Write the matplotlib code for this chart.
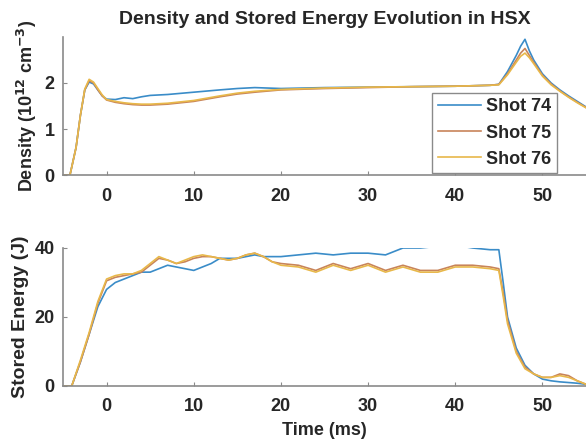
import numpy as np
import matplotlib
matplotlib.use('Agg')
import matplotlib.pyplot as plt

# Datos (tiempo en ms)
shots = ['Shot 74', 'Shot 75', 'Shot 76']
colores = ['#3a8cc8', '#c8845a', '#e8b84a']

# Densidad (10^12 cm^-3)
t_dens = [-5, -4.2, -3.5, -3, -2.5, -2, -1.5, -1, -0.5, 0, 1, 2, 3, 4, 5, 7, 10, 13, 15, 17, 20,
          25, 30, 35, 40, 44, 45, 46, 47, 47.5, 48, 48.5, 49, 50, 51, 52, 53, 54, 55]
dens_74 = [0, 0, 0.6, 1.3, 1.85, 2.02, 1.98, 1.85, 1.72, 1.65, 1.64, 1.68, 1.66, 1.70, 1.73, 1.75, 1.8, 1.85, 1.88, 1.9, 1.88,
           1.9, 1.91, 1.92, 1.93, 1.95, 1.97, 2.25, 2.6, 2.8, 2.95, 2.7, 2.5, 2.2, 2.0, 1.85, 1.72, 1.6, 1.48]
dens_75 = [0, 0, 0.6, 1.3, 1.85, 2.05, 2.0, 1.85, 1.72, 1.63, 1.58, 1.55, 1.53, 1.52, 1.52, 1.54, 1.6, 1.7, 1.76, 1.8, 1.85,
           1.88, 1.9, 1.92, 1.93, 1.95, 1.97, 2.2, 2.5, 2.65, 2.75, 2.6, 2.45, 2.17, 1.98, 1.83, 1.7, 1.58, 1.47]
dens_76 = [0, 0, 0.6, 1.3, 1.87, 2.08, 2.02, 1.88, 1.74, 1.64, 1.6, 1.57, 1.55, 1.54, 1.54, 1.56, 1.62, 1.72, 1.78, 1.82, 1.86,
           1.89, 1.91, 1.92, 1.93, 1.95, 1.96, 2.18, 2.45, 2.58, 2.65, 2.55, 2.42, 2.15, 1.96, 1.82, 1.69, 1.57, 1.46]

# Energia almacenada (J)
t_en = [-5, -4, -3, -2, -1, 0, 1, 2, 3, 4, 5, 6, 7, 8, 9, 10, 11, 12, 13, 14, 15, 16, 17, 18, 19, 20,
        22, 24, 26, 28, 30, 32, 34, 36, 38, 40, 42, 44, 45, 45.5, 46, 47, 48, 49, 50, 51, 52, 53, 54, 55]
en_74 = [0, 0, 7, 15, 23, 28, 30, 31, 32, 33, 33, 34, 35, 34.5, 34, 33.5, 34.5, 35.5, 37, 37, 37, 37.5, 38, 37.5, 37.5, 37.5,
         38, 38.5, 38, 38.5, 38.5, 38, 40, 40, 40.5, 40.8, 40, 39.5, 39.5, 30, 20, 11, 6, 3.5, 2, 1.5, 1.2, 1, 0.8, 0.5]
en_75 = [0, 0, 7, 15, 24, 30.5, 31.5, 32, 32.5, 33, 35, 37, 36.5, 35.5, 36, 37, 37.5, 37.5, 37, 36.5, 37, 38, 38.5, 37.5, 36, 35.5,
         35, 33.5, 35.5, 34, 35.5, 33.5, 35, 33.5, 33.5, 35, 35, 34.5, 34, 27, 19, 10, 5.5, 3.5, 2.5, 2.5, 3.5, 3, 1.5, 0.5]
en_76 = [0, 0, 7.5, 15.5, 24.5, 31, 32, 32.5, 32.5, 33.5, 35.5, 37.5, 36.5, 35.5, 36.5, 37.5, 38, 37.5, 37, 36.5, 37, 38, 38.5, 37.5, 36, 35,
         34.5, 33, 35, 33.5, 35, 33, 34.5, 33, 33, 34.5, 34.5, 34, 33.5, 26, 18, 9.5, 5, 3.5, 2.5, 2.5, 3, 2.5, 1.5, 0.5]

plt.rcParams['font.family'] = ['Liberation Sans', 'DejaVu Sans']
plt.rcParams['font.weight'] = 'bold'
plt.rcParams['axes.labelweight'] = 'bold'
plt.rcParams['axes.titleweight'] = 'bold'

texto = '#262626'
gris = '#8a8a8a'
fs = 13      # ticks y leyenda
fl = 14      # etiquetas y titulo

fig = plt.figure(figsize=(5.86, 4.45), dpi=100)
ax1 = fig.add_axes([0.1075, 0.6067, 0.8925, 0.3102])
ax2 = fig.add_axes([0.1075, 0.1326, 0.8925, 0.3101])

for ax in (ax1, ax2):
    for s in ('top', 'right'):
        ax.spines[s].set_visible(False)
    for s in ('left', 'bottom'):
        ax.spines[s].set_color(gris)
        ax.spines[s].set_linewidth(1.2)
    ax.tick_params(direction='in', length=3, color=gris, labelcolor=texto, labelsize=fs)
    ax.tick_params(axis='x', pad=9)
    ax.tick_params(axis='y', pad=6)
    ax.set_xlim(-5, 55)
    ax.set_xticks([0, 10, 20, 30, 40, 50])

for y, c, lab in zip([dens_74, dens_75, dens_76], colores, shots):
    ax1.plot(t_dens, y, color=c, lw=1.2, label=lab)
ax1.set_ylim(0, 3)
ax1.set_yticks([0, 1, 2])
ax1.set_ylabel('Density (10$^{12}$ cm$^{-3}$)', color=texto, fontsize=fs, labelpad=4)
ax1.set_title('Density and Stored Energy Evolution in HSX', color=texto, fontsize=fl, pad=9)
leg = ax1.legend(loc='lower right', bbox_to_anchor=(0.9445, 0.015), borderaxespad=0, fontsize=fs,
                 handlelength=2.4, handletextpad=0.3, borderpad=0.3, labelspacing=0.5,
                 fancybox=False, framealpha=1)
leg.get_frame().set_edgecolor(gris)
for tx in leg.get_texts():
    tx.set_color(texto)

for y, c in zip([en_74, en_75, en_76], colores):
    ax2.plot(t_en, y, color=c, lw=1.2)
ax2.set_ylim(0, 40)
ax2.set_yticks([0, 20, 40])
ax2.set_ylabel('Stored Energy (J)', color=texto, fontsize=fl, labelpad=4)
ax2.set_xlabel('Time (ms)', color=texto, fontsize=fs, labelpad=5)

fig.savefig('out.png', dpi=100)
